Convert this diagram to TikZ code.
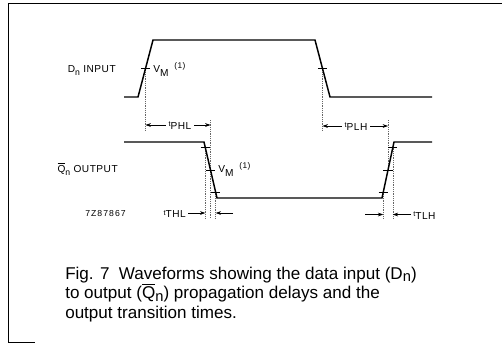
\documentclass[tikz,border=0pt]{standalone}
\usepackage{fontspec}
\setmainfont{Liberation Sans}
\newfontfamily\lblfont[LetterSpace=5]{Liberation Sans}
\usetikzlibrary{arrows.meta}
\newcommand\lowsub[2]{\raisebox{-#1}{#2}}
\newcommand\smallt{\raisebox{1.8pt}{\fontsize{5.5}{5.5}\selectfont t}}
\begin{document}
\begin{tikzpicture}[x=0.75pt,y=-0.75pt,
  wave/.style={line width=1.1pt, line join=miter},
  frameline/.style={line width=1.1pt},
  guide/.style={black!60, line width=0.35pt, densely dotted},
  tickm/.style={line width=0.6pt},
  dim/.style={-{Stealth[length=4pt,width=2.8pt]}, line width=0.5pt},
  lbl/.style={font=\fontsize{7.6}{8.5}\selectfont\lblfont, inner sep=0pt},
  captext/.style={font=\fontsize{12.8}{15}\selectfont, anchor=base west, inner sep=0pt}]
\useasboundingbox (0,0) rectangle (502,344);
% frame
\draw[frameline] (502,3.5) -- (8.5,3.5) -- (8.5,342.5) -- (35,342.5);
% input waveform coordinates
\coordinate (i0) at (124,97);
\coordinate (i1) at (138,97);
\coordinate (i2) at (153,40);
\coordinate (i3) at (315,40);
\coordinate (i4) at (330,97);
\coordinate (i5) at (432,97);
\coordinate (iA) at (145.5,68.5);
\coordinate (iB) at (322.5,68.5);
% output waveform coordinates
\coordinate (o0) at (124,142);
\coordinate (o1) at (204,142);
\coordinate (o2) at (217,198);
\coordinate (o3) at (382,198);
\coordinate (o4) at (394,142);
\coordinate (o5) at (432,142);
\coordinate (f1) at (205.3,147.6);
\coordinate (f2) at (210.5,170);
\coordinate (f3) at (215.7,192.4);
\coordinate (r1) at (383.2,192.4);
\coordinate (r2) at (388,170);
\coordinate (r3) at (392.8,147.6);
% guide lines
\coordinate (gA) at (145.5,131);
\coordinate (gB) at (322.5,131);
\coordinate (gC1) at (210.5,120);
\coordinate (gC2) at (210.5,218);
\coordinate (gD) at (388,120);
\coordinate (gF1) at (205.3,218);
\coordinate (gF3) at (215.7,218);
\coordinate (gR1) at (383.2,218);
\coordinate (gR3) at (392.8,218);
\draw[guide] (iA) -- (gA);
\draw[guide] (iB) -- (gB);
\draw[guide] (gC1) -- (gC2);
\draw[guide] (gD) -- (r2);
\draw[guide] (f1) -- (gF1);
\draw[guide] (f3) -- (gF3);
\draw[guide] (r1) -- (gR1);
\draw[guide] (r3) -- (gR3);
% waveforms
\draw[wave] (i0) -- (i1) -- (i2) -- (i3) -- (i4) -- (i5);
\draw[wave] (o0) -- (o1) -- (o2) -- (o3) -- (o4) -- (o5);
% ticks
\foreach \p in {iA,iB,f1,f2,f3,r1,r2,r3}
  \draw[tickm] ([xshift=-3.5pt]\p) -- ([xshift=3.5pt]\p);
% labels
\node[lbl, anchor=base east] (din) at (116,72.5) {D\lowsub{2.5pt}{\fontsize{6.5}{6.5}\selectfont n} INPUT};
\node[lbl, anchor=base east] (qout) at (118,172.5) {$\overline{\mbox{Q}}$\lowsub{2.5pt}{\fontsize{6.5}{6.5}\selectfont n} OUTPUT};
\node[lbl, anchor=base west] (vm1) at (153,72.5) {V\lowsub{3pt}{M}\hspace{4.5pt}\raisebox{3pt}{\fontsize{6.2}{6.2}\selectfont(1)}};
\node[lbl, anchor=base west] (vm2) at (218,172) {V\lowsub{3pt}{M}\hspace{4.5pt}\raisebox{3pt}{\fontsize{6.2}{6.2}\selectfont(1)}};
\node[lbl, anchor=base west, font=\fontsize{6.5}{7}\selectfont\addfontfeature{LetterSpace=12}] (code) at (85,216) {7Z87867};
% propagation delays
\node[lbl] (phl) at (180,125.5) {\smallt PHL};
\coordinate (phlL) at (145.5,125);
\coordinate (phlR) at (210.5,125);
\draw[dim] ([xshift=-2pt]phl.west |- phlL) -- (phlL);
\draw[dim] ([xshift=2pt]phl.east |- phlR) -- (phlR);
\node[lbl] (plh) at (356,126.5) {\smallt PLH};
\coordinate (plhL) at (322.5,126);
\coordinate (plhR) at (388,126);
\draw[dim] ([xshift=-2pt]plh.west |- plhL) -- (plhL);
\draw[dim] ([xshift=2pt]plh.east |- plhR) -- (plhR);
% transition times
\node[lbl, anchor=east] (thl) at (186,214) {\smallt THL};
\coordinate (thlA) at (205.3,213);
\coordinate (thlB0) at (233,213);
\coordinate (thlB) at (215.7,213);
\draw[dim] ([xshift=1.5pt]thl.east |- thlA) -- (thlA);
\draw[dim] (thlB0) -- (thlB);
\node[lbl, anchor=west] (tlh) at (413,215.5) {\smallt TLH};
\coordinate (tlhA0) at (365,214.5);
\coordinate (tlhA) at (383.2,214.5);
\coordinate (tlhB) at (392.8,214.5);
\draw[dim] (tlhA0) -- (tlhA);
\draw[dim] ([xshift=-1.5pt]tlh.west |- tlhB) -- (tlhB);
% caption
\node[captext] (cap1) at (65,279) {Fig. 7\hspace{0.55em}Waveforms showing the data input (D\lowsub{2pt}{\fontsize{11}{11}\selectfont n})};
\node[captext] (cap2) at (65,298.5) {to output ($\overline{\mbox{Q}}$\lowsub{2pt}{\fontsize{11}{11}\selectfont n}) propagation delays and the};
\node[captext] (cap3) at (65,318) {output transition times.};
\end{tikzpicture}
\end{document}
